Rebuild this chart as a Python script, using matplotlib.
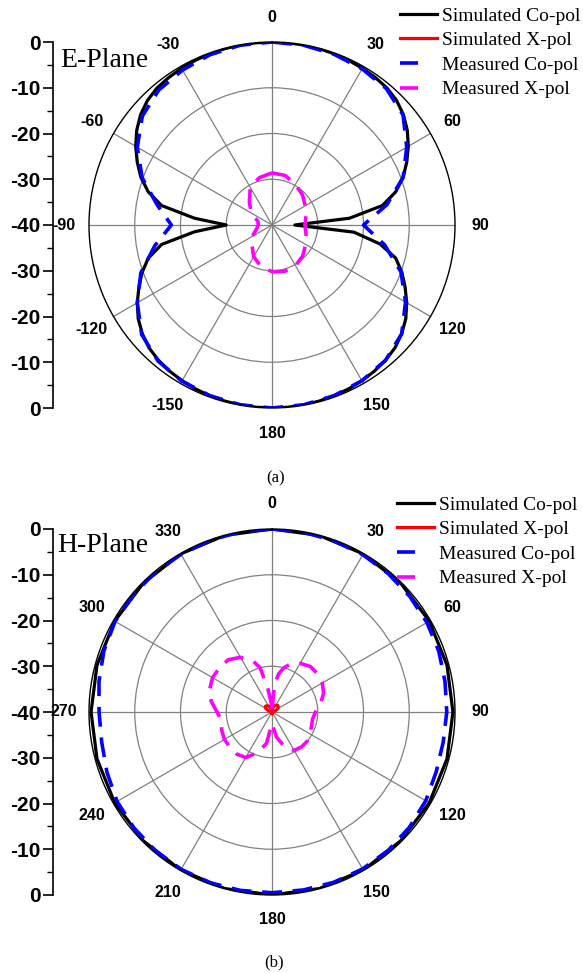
import numpy as np
import matplotlib
matplotlib.use("Agg")
import matplotlib.pyplot as plt
from matplotlib.lines import Line2D

# ---------------- data ----------------
# E-plane, simulated co-pol (degrees, dB)
E_sim_co_ang = [0, 5, 10, 15, 20, 25, 30, 35, 40, 45, 50, 55, 60, 65, 70, 75, 80, 85, 90,
                95, 100, 105, 110, 115, 120, 125, 130, 135, 140, 145, 150, 155, 160, 165, 170, 175, 180,
                185, 190, 195, 200, 205, 210, 215, 220, 225, 230, 235, 240, 245, 250, 255, 260, 265, 270,
                275, 280, 285, 290, 295, 300, 305, 310, 315, 320, 325, 330, 335, 340, 345, 350, 355, 360]
E_sim_co_db = [0, -0.02, -0.05, -0.1, -0.18, -0.3, -0.45, -0.65, -0.9, -1.5, -2.5, -3.9, -5.6, -7.5, -9.5, -12.0, -15.5, -23.0, -35.0,
               -22.0, -16.0, -12.0, -9.8, -7.9, -6.0, -4.3, -3.0, -2.0, -1.4, -1.0, -0.7, -0.45, -0.3, -0.15, -0.07, -0.02, 0,
               -0.02, -0.07, -0.15, -0.3, -0.45, -0.7, -1.0, -1.4, -2.0, -3.0, -4.3, -6.0, -7.9, -9.8, -12.0, -15.5, -23.0, -30.0,
               -23.0, -15.5, -12.0, -9.5, -7.5, -5.6, -3.9, -2.5, -1.5, -0.9, -0.65, -0.45, -0.3, -0.18, -0.1, -0.05, -0.02, 0]
# E-plane, simulated X-pol (below the -40 dB range of the plot)
E_sim_x_ang = [0, 90, 180, 270, 360]
E_sim_x_db = [-50, -50, -50, -50, -50]
# E-plane, measured co-pol
E_meas_co_ang = [0, 10, 20, 30, 40, 50, 60, 70, 80, 90, 100, 110, 120, 130, 140, 150, 160, 170, 180,
                 190, 200, 210, 220, 230, 240, 250, 260, 270, 280, 290, 300, 310, 320, 330, 340, 350, 360]
E_meas_co_db = [0, -0.1, -0.3, -0.6, -1.1, -2.6, -6.0, -9.5, -14.5, -20.0, -15.0, -10.0, -6.3, -3.0, -1.4, -0.7, -0.3, -0.1, 0,
                -0.1, -0.3, -0.6, -1.2, -2.8, -6.0, -9.5, -14.0, -18.0, -14.5, -9.8, -6.0, -3.0, -1.5, -0.9, -0.4, -0.1, 0]
# E-plane, measured X-pol
E_meas_x_ang = [0, 15, 30, 45, 60, 75, 90, 105, 120, 135, 150, 165, 180, 195, 210, 225, 240, 255, 270, 285, 300, 315, 330, 345, 360]
E_meas_x_db = [-28.6, -28.8, -29.8, -30.6, -31.6, -32.3, -32.8, -32.3, -31.5, -30.5, -29.7, -29.5, -29.8,
               -30.6, -32.0, -33.8, -35.0, -36.5, -37.0, -36.8, -34.8, -33.0, -30.5, -29.3, -28.6]

# H-plane, simulated co-pol
H_sim_co_ang = [0, 15, 30, 45, 60, 75, 90, 105, 120, 135, 150, 165, 180, 195, 210, 225, 240, 255, 270, 285, 300, 315, 330, 345, 360]
H_sim_co_db = [0, -0.05, -0.1, -0.2, -0.3, -0.4, -0.45, -0.4, -0.3, -0.2, -0.1, -0.05, 0,
               -0.05, -0.1, -0.2, -0.3, -0.4, -0.45, -0.4, -0.3, -0.2, -0.1, -0.05, 0]
# H-plane, simulated X-pol
H_sim_x_ang = [0, 10, 20, 30, 40, 50, 60, 70, 80, 90, 180, 270, 280, 290, 300, 310, 320, 330, 340, 350, 360]
H_sim_x_db = [-39.5, -39.0, -38.6, -38.3, -38.1, -38.2, -38.5, -39.2, -40, -40, -39.6, -40, -40,
              -39.2, -38.4, -38.1, -38.2, -38.5, -38.9, -39.3, -39.5]
# H-plane, measured co-pol
H_meas_co_ang = [0, 10, 20, 30, 40, 50, 60, 70, 80, 90, 100, 110, 120, 130, 140, 150, 160, 170, 180,
                 190, 200, 210, 220, 230, 240, 250, 260, 270, 280, 290, 300, 310, 320, 330, 340, 350, 360]
H_meas_co_db = [0, -0.1, -0.2, -0.3, -0.5, -0.7, -0.9, -1.2, -1.6, -1.8, -2.0, -1.8, -1.2, -0.8, -0.5, -0.4, -0.4, -0.5, -0.5,
                -0.4, -0.3, -0.3, -0.4, -0.6, -0.9, -1.6, -2.2, -2.2, -1.6, -0.9, -0.4, -0.3, -0.2, -0.2, -0.1, 0, 0]
# H-plane, measured X-pol
H_meas_x_ang = [0, 5, 10, 15, 20, 30, 40, 50, 60, 70, 80, 90, 100, 110, 120, 130, 140, 150, 160, 170, 180,
                190, 200, 210, 220, 230, 240, 250, 260, 270, 280, 290, 300, 310, 320, 330, 340, 345, 350, 355, 360]
H_meas_x_db = [-39.5, -34.0, -31.5, -30.0, -29.0, -27.7, -27.0, -27.0, -27.3, -28.0, -29.2, -30.5, -31.0, -30.8, -30.5,
               -30.0, -30.0, -30.3, -31.8, -34.5, -37.5, -33.0, -30.5, -28.5, -28.0, -28.0, -28.0, -28.3, -28.8,
               -28.0, -26.5, -25.5, -25.0, -25.0, -25.1, -26.2, -28.3, -30.0, -35.0, -38.0, -39.5]

E_theta_ticks = [0, 30, 60, 90, 120, 150, 180, 210, 240, 270, 300, 330]
E_theta_labels = ['0', '30', '60', '90', '120', '150', '180', '-150', '-120', '-90', '-60', '-30']
H_theta_labels = ['0', '30', '60', '90', '120', '150', '180', '210', '240', '270', '300', '330']
r_ticks = [-30, -20, -10]
side_ticks = [0, 10, 20, 30, 40, 50, 60, 70, 80]
side_labels = ['0', '-10', '-20', '-30', '-40', '-30', '-20', '-10', '0']
legend_labels = ['Simulated Co-pol', 'Simulated X-pol', 'Measured Co-pol', 'Measured X-pol']
RMIN, RMAX = -40, 0

# ---------------- figure ----------------
W, H = 583, 973
fig = plt.figure(figsize=(W / 100, H / 100), dpi=100)
SANS = 'Liberation Sans'
SERIF = 'Liberation Serif'

R = 183
CX = 272


def prep(ang, db):
    a = np.deg2rad(np.asarray(ang, float))
    d = np.asarray(db, float)
    d = np.where(d < RMIN, np.nan, d)
    return a, d


def make_panel(cy, series, theta_labels, title, title_y, leg_xy):
    left = (CX - R) / W
    bottom = (H - (cy + R)) / H
    ax = fig.add_axes([left, bottom, 2 * R / W, 2 * R / H], projection='polar')
    ax.set_theta_zero_location('N')
    ax.set_theta_direction(-1)
    ax.set_rlim(RMIN, RMAX)
    ax.set_rticks(r_ticks)
    ax.set_yticklabels([])
    ax.set_xticks(np.deg2rad(E_theta_ticks), labels=theta_labels)
    ax.set_xticks(np.deg2rad(np.arange(15, 360, 30)), minor=True)
    ax.tick_params(axis='x', which='major', direction='in', length=5, width=1, color='black',
                   pad=11, labelsize=11.5)
    ax.tick_params(axis='x', which='minor', direction='in', length=3, width=1, color='black')
    for lab in ax.get_xticklabels():
        lab.set_fontfamily(SANS)
        lab.set_fontweight('bold')
    ax.grid(True, color='#808080', linewidth=0.9)
    ax.spines['polar'].set_color('black')
    ax.spines['polar'].set_linewidth(1.0)
    ax.set_axisbelow(True)

    (a1, d1), (a2, d2), (a3, d3), (a4, d4) = series
    ax.plot(a1, d1, color='black', lw=2.3, solid_joinstyle='round')
    ax.plot(a2, d2, color='red', lw=2.3, solid_joinstyle='round')
    ax.plot(a3, d3, color='blue', lw=2.6, dashes=(5.5, 3.0))
    ax.plot(a4, d4, color='magenta', lw=2.6, dashes=(5.5, 3.0))

    # legend proxies (Origin-style single dash sample for dashed series)
    h1 = Line2D([], [], color='black', lw=2.3)
    h2 = Line2D([], [], color='red', lw=2.3)
    h3 = Line2D([], [], color='blue', lw=2.6, dashes=(5.0, 20.0))
    h4 = Line2D([], [], color='magenta', lw=2.6, dashes=(5.0, 20.0))

    # side dB scale
    sax = fig.add_axes([53 / W, bottom, 0.0001, 2 * R / H])
    sax.set_ylim(0, 80)
    sax.set_xticks([])
    sax.set_yticks(side_ticks, labels=side_labels)
    sax.set_yticks(np.arange(5, 80, 10), minor=True)
    for s in ['top', 'right', 'bottom']:
        sax.spines[s].set_visible(False)
    sax.spines['left'].set_linewidth(1.2)
    sax.patch.set_visible(False)
    sax.tick_params(axis='y', which='major', direction='out', length=7, width=1.2, pad=2, labelsize=15)
    sax.tick_params(axis='y', which='minor', direction='out', length=4, width=1.0)
    for lab in sax.get_yticklabels():
        lab.set_fontfamily(SANS)
        lab.set_fontweight('bold')

    fig.text(title[1] / W, 1 - title_y / H, title[0], family=SERIF, fontsize=20, va='baseline', ha='left')

    fig.legend([h1, h2, h3, h4], legend_labels, loc='upper left',
               bbox_to_anchor=(leg_xy[0] / W, 1 - leg_xy[1] / H),
               frameon=False, borderpad=0, borderaxespad=0, handlelength=1.9,
               handletextpad=0.25, labelspacing=0.36, prop={'family': SERIF, 'size': 14})
    return ax


E_series = [prep(E_sim_co_ang, E_sim_co_db), prep(E_sim_x_ang, E_sim_x_db),
            prep(E_meas_co_ang, E_meas_co_db), prep(E_meas_x_ang, E_meas_x_db)]
H_series = [prep(H_sim_co_ang, H_sim_co_db), prep(H_sim_x_ang, H_sim_x_db),
            prep(H_meas_co_ang, H_meas_co_db), prep(H_meas_x_ang, H_meas_x_db)]

make_panel(225, E_series, E_theta_labels, ('E-Plane', 60), 67, (400, 7))
make_panel(712, H_series, H_theta_labels, ('H-Plane', 57), 552, (397, 496))

fig.text(276 / W, 1 - 478 / H, '(a)', family=SERIF, fontsize=12, ha='center', va='center')
fig.text(274 / W, 1 - 962 / H, '(b)', family=SERIF, fontsize=12, ha='center', va='center')

fig.savefig('out.png', dpi=100)
